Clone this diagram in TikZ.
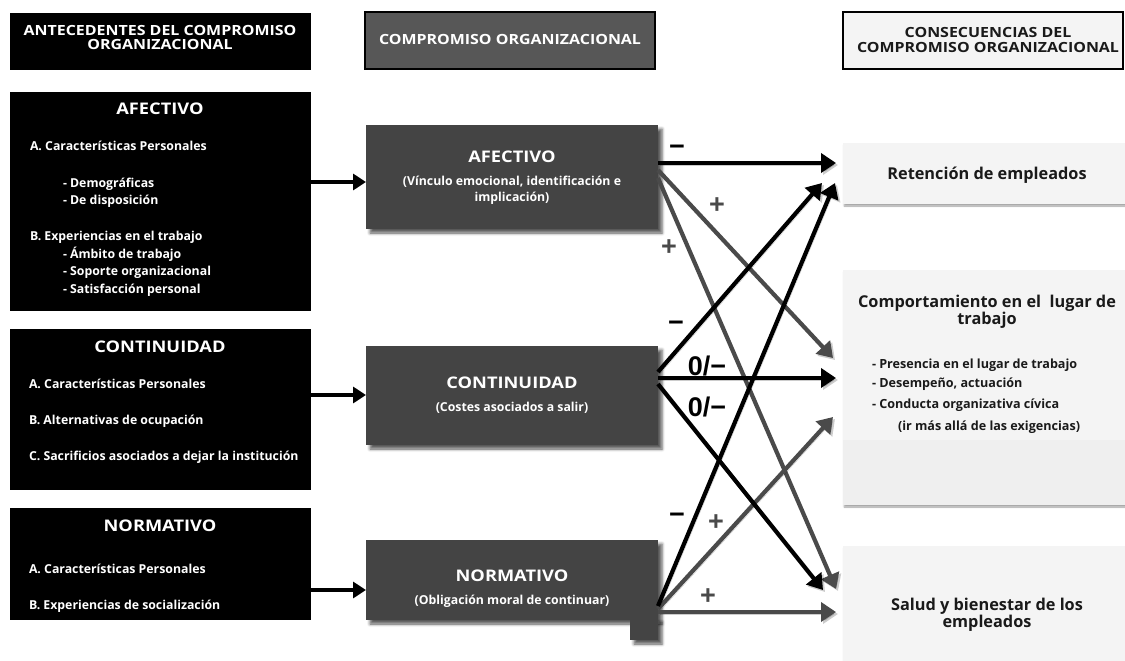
\documentclass[tikz,border=0pt]{standalone}
\usepackage{fontspec}
\setmainfont{Open Sans}
\newfontfamily\capsfont{Open Sans}[FakeStretch=1.14]
\newfontfamily\signfont{Liberation Sans}
\usetikzlibrary{arrows.meta,shadows.blur}
\definecolor{boxgray}{HTML}{444444}
\definecolor{headgray}{HTML}{575757}
\definecolor{paper}{HTML}{F4F4F4}
\definecolor{paperdark}{HTML}{EFEFEF}
\definecolor{linegray}{HTML}{4A4A4A}
\definecolor{ink}{HTML}{1A1A1A}
\begin{document}
\begin{tikzpicture}[x=1pt,y=-1pt,
  every node/.style={inner sep=0pt, outer sep=0pt},
  darkbox/.style={fill=black, anchor=north west},
  midbox/.style={fill=boxgray, anchor=north west,
    blur shadow={shadow xshift=4pt, shadow yshift=-4pt, shadow blur radius=3pt, shadow opacity=65}},
  outbox/.style={fill=paper, anchor=north west,
    blur shadow={shadow xshift=1pt, shadow yshift=-2pt, shadow blur radius=1.5pt, shadow opacity=35}},
  headtxt/.style={font=\capsfont\bfseries\fontsize{14}{16}\selectfont, anchor=base},
  ltitle/.style={text=white, font=\capsfont\bfseries\fontsize{16}{18}\selectfont, anchor=base},
  litem/.style={text=white, font=\bfseries\fontsize{12.3}{14}\selectfont, anchor=base west},
  msub/.style={text=white, font=\bfseries\fontsize{12.3}{14}\selectfont, anchor=base},
  rtitle/.style={text=ink, font=\bfseries\fontsize{16.3}{18}\selectfont, anchor=base},
  ritem/.style={text=ink, font=\bfseries\fontsize{12.6}{14}\selectfont, anchor=base west},
  sign/.style={font=\signfont\bfseries\fontsize{27}{27}\selectfont},
  feed/.style={-{Triangle[length=13pt,width=16pt]}, line width=4pt, black},
  link/.style={-{Triangle[length=15pt,width=19pt]}, line width=4.2pt,
    preaction={draw=black, opacity=0.2, transform canvas={xshift=2pt, yshift=-2pt}}},
]
\useasboundingbox (0,0) rectangle (1125,661);

% ---------- column headers ----------
\node[darkbox, minimum width=301pt, minimum height=57pt] (h1) at (10,13) {};
\node[headtxt, text=white] (h1a) at (160,36) {ANTECEDENTES DEL COMPROMISO};
\node[headtxt, text=white] (h1b) at (160,50) {ORGANIZACIONAL};

\node[fill=headgray, draw=black, line width=1.2pt, anchor=north west,
      minimum width=290pt, minimum height=57pt] (h2) at (365,12) {};
\node[headtxt, text=white] (h2a) at (510,45) {COMPROMISO ORGANIZACIONAL};

\node[fill=paper, draw=black, line width=1.2pt, anchor=north west,
      minimum width=280pt, minimum height=57pt] (h3) at (843,12) {};
\node[headtxt, text=ink] (h3a) at (988,38) {CONSECUENCIAS DEL};
\node[headtxt, text=ink] (h3b) at (988,53) {COMPROMISO ORGANIZACIONAL};

% ---------- antecedents ----------
\node[darkbox, minimum width=301pt, minimum height=219pt] (la) at (10,92) {};
\node[ltitle] (lat) at (160,114) {AFECTIVO};
\node[litem] (la1) at (30,150) {A. Características Personales};
\node[litem] (la2) at (63,187) {- Demográficas};
\node[litem] (la3) at (63,204) {- De disposición};
\node[litem] (la4) at (30,240) {B. Experiencias en el trabajo};
\node[litem] (la5) at (63,258) {- Ámbito de trabajo};
\node[litem] (la6) at (63,275) {- Soporte organizacional};
\node[litem] (la7) at (63,293) {- Satisfacción personal};

\node[darkbox, minimum width=301pt, minimum height=161pt] (lc) at (10,329) {};
\node[ltitle] (lct) at (160,352) {CONTINUIDAD};
\node[litem] (lc1) at (29,388) {A. Características Personales};
\node[litem] (lc2) at (29,424) {B. Alternativas de ocupación};
\node[litem] (lc3) at (29,460) {C. Sacrificios asociados a dejar la institución};

\node[darkbox, minimum width=301pt, minimum height=112pt] (ln) at (10,508) {};
\node[ltitle] (lnt) at (160,531) {NORMATIVO};
\node[litem] (ln1) at (29,573) {A. Características Personales};
\node[litem] (ln2) at (29,609) {B. Experiencias de socialización};

% ---------- components ----------
\node[midbox, minimum width=292pt, minimum height=104pt] (ma) at (366,125) {};
\node[ltitle] (mat) at (512,162) {AFECTIVO};
\node[msub] (ma1) at (512,185) {(Vínculo emocional, identificación e};
\node[msub] (ma2) at (512,201) {implicación)};

\node[midbox, minimum width=292pt, minimum height=99pt] (mc) at (366,346) {};
\node[ltitle] (mct) at (512,388) {CONTINUIDAD};
\node[msub] (mc1) at (512,411) {(Costes asociados a salir)};

\node[midbox, minimum width=292pt, minimum height=80pt] (mn) at (366,540) {};
\fill[boxgray, blur shadow={shadow xshift=4pt, shadow yshift=-4pt, shadow blur radius=3pt, shadow opacity=65}]
  (630,618) rectangle (658,640);
\node[ltitle] (mnt) at (512,581) {NORMATIVO};
\node[msub] (mn1) at (512,604) {(Obligación moral de continuar)};

% ---------- consequences ----------
\node[outbox, minimum width=285pt, minimum height=61pt] (ra) at (843,143) {};
\node[rtitle] (rat) at (987,179) {Retención de empleados};

\node[outbox, minimum width=285pt, minimum height=235pt] (rb) at (843,270) {};
\fill[paperdark] (843,440) rectangle (1125,505);
\node[rtitle] (rbt) at (987,307) {Comportamiento en el\ \ lugar de};
\node[rtitle] (rbt2) at (987,324) {trabajo};
\node[ritem] (rb1) at (872,368) {- Presencia en el lugar de trabajo};
\node[ritem] (rb2) at (872,387) {- Desempeño, actuación};
\node[ritem] (rb3) at (872,408) {- Conducta organizativa cívica};
\node[ritem] (rb4) at (898,430) {(ir más allá de las exigencias)};

\node[outbox, minimum width=285pt, minimum height=118pt] (rc) at (843,546) {};
\node[rtitle] (rct) at (987,610) {Salud y bienestar de los};
\node[rtitle] (rct2) at (987,627) {empleados};

% ---------- antecedents to components ----------
\draw[feed] (la.east |- 0,182) -- (ma.west |- 0,182);
\draw[feed] (lc.east |- 0,395) -- (mc.west |- 0,395);
\draw[feed] (ln.east |- 0,590) -- (mn.west |- 0,590);

% ---------- components to consequences ----------
\coordinate (sa1) at (658,163);
\coordinate (sa2) at (658,170);
\coordinate (sa3) at (658,178);
\coordinate (sc1) at (658,372);
\coordinate (sc2) at (658,378);
\coordinate (sc3) at (658,384);
\coordinate (sn1) at (658,606);
\coordinate (sn2) at (658,609);
\coordinate (sn3) at (658,612);

\coordinate (ea1) at (836,163);
\coordinate (eb1) at (833,358);
\coordinate (ec1) at (836,589);
\coordinate (ea2) at (822,183);
\coordinate (eb2) at (836,378);
\coordinate (ec2) at (823,590);
\coordinate (ea3) at (835,183);
\coordinate (eb3) at (833,417);
\coordinate (ec3) at (836,612);

\draw[link, linegray] (sa2) -- (eb1);
\draw[link, linegray] (sa3) -- (ec1);
\draw[link, linegray] (sn2) -- (eb3);
\draw[link, linegray] (sn3) -- (ec3);
\draw[link, black] (sa1) -- (ea1);
\draw[link, black] (sc1) -- (ea2);
\draw[link, black] (sc2) -- (eb2);
\draw[link, black] (sc3) -- (ec2);
\draw[link, black] (sn1) -- (ea3);

% ---------- signs ----------
\node[sign, text=black] (s1) at (677,150) {−};
\node[sign, text=linegray] (s2) at (717,206) {+};
\node[sign, text=linegray] (s3) at (669,248) {+};
\node[sign, text=black] (s4) at (676,326) {−};
\node[sign, text=black] (s5) at (707,366) {0/−};
\node[sign, text=black] (s6) at (707,407) {0/−};
\node[sign, text=black] (s7) at (677,518) {−};
\node[sign, text=linegray] (s8) at (716,523) {+};
\node[sign, text=linegray] (s9) at (708,597) {+};
\end{tikzpicture}
\end{document}
